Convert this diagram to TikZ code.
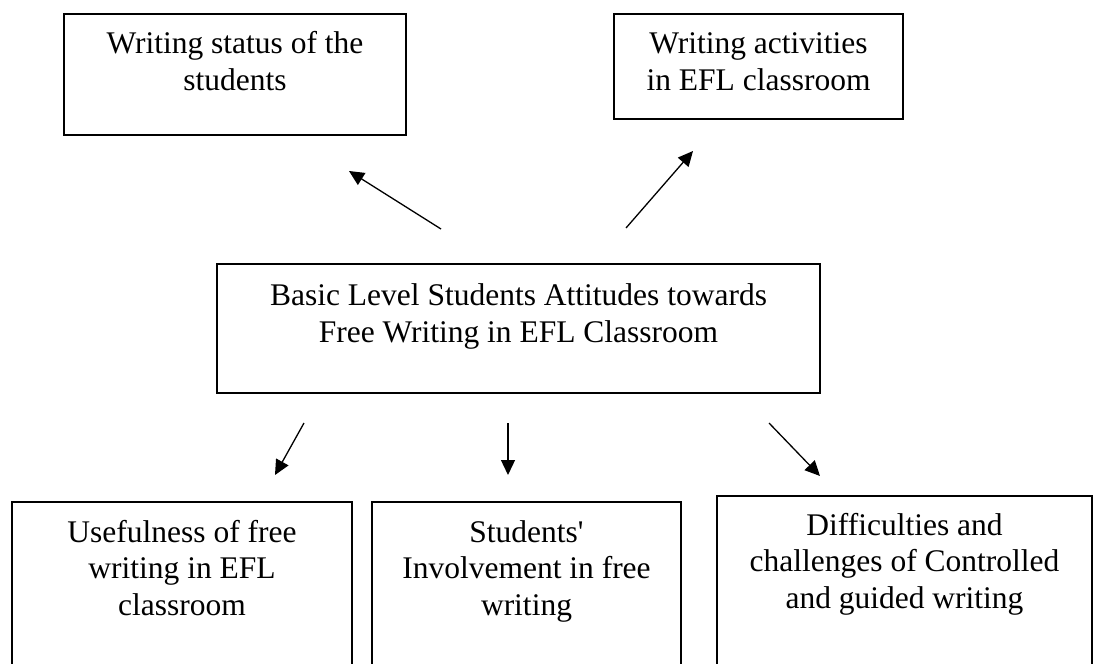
\documentclass[tikz,border=0pt]{standalone}
\usepackage{fontspec}
\setmainfont{Liberation Serif}[Ligatures=TeXOff]
\usetikzlibrary{arrows.meta}
\begin{document}
\begin{tikzpicture}[x=1pt,y=-1pt,
  box/.style={draw, line width=1.2pt, rectangle, inner sep=0pt},
  txt/.style={font=\fontsize{31.5}{36.5}\selectfont, align=center, inner sep=0pt, anchor=base},
  arr/.style={-{Triangle[length=15pt,width=14pt]}, line width=1.3pt}]
\useasboundingbox (0,0) rectangle (1093,664);
\clip (0,0) rectangle (1093,664);
% boxes
\node[box, minimum width=342pt, minimum height=121pt] (ws) at (235,74.5) {};
\node[box, minimum width=289pt, minimum height=105pt] (wa) at (758.5,66.5) {};
\node[box, minimum width=603pt, minimum height=129pt] (basic) at (518.5,328.5) {};
\node[box, minimum width=340pt, minimum height=198pt] (use) at (182,601) {};
\node[box, minimum width=309pt, minimum height=198pt] (inv) at (526.5,601) {};
\node[box, minimum width=375pt, minimum height=208pt] (diff) at (904.5,600) {};
% texts (anchor = baseline of the last line)
\node[txt] (wst) at (235,90) {Writing status of the\\students};
\node[txt] (wat) at (758.5,90) {Writing activities\\in EFL classroom};
\node[txt] (bt) at (518.5,342) {Basic Level Students Attitudes towards\\Free Writing in EFL Classroom};
\node[txt] (ut) at (182,615) {Usefulness of free\\writing in EFL\\classroom};
\node[txt] (it) at (526.5,615) {Students'\\Involvement in free\\writing};
\node[txt] (dt) at (904.5,608) {Difficulties and\\challenges of Controlled\\and guided writing};
% arrow ends
\coordinate (a1s) at (441,229); \coordinate (a1e) at (349,171);
\coordinate (a2s) at (626,228); \coordinate (a2e) at (693,151);
\coordinate (a3s) at (304,423); \coordinate (a3e) at (275,475);
\coordinate (a4s) at (508,423); \coordinate (a4e) at (508,475);
\coordinate (a5s) at (769,423); \coordinate (a5e) at (820,476);
\draw[arr] (a1s) -- (a1e);
\draw[arr] (a2s) -- (a2e);
\draw[arr] (a3s) -- (a3e);
\draw[arr] (a4s) -- (a4e);
\draw[arr] (a5s) -- (a5e);
\end{tikzpicture}
\end{document}
